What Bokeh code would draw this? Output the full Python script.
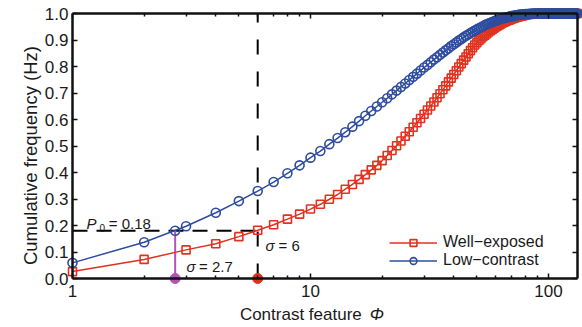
import math
from bokeh.plotting import figure
from bokeh.models import (LogAxis, LinearAxis, FixedTicker, Range1d, Label, Legend,
                          LegendItem, PrintfTickFormatter, BasicTickFormatter, ColumnDataSource)
from bokeh.embed import file_html
from bokeh.resources import INLINE

# ---------------- data ----------------
phi = list(range(1, 133))
well_exposed = [
    0.026, 0.072, 0.108, 0.131, 0.158, 0.182, 0.203, 0.224, 0.243, 0.262,
    0.280, 0.299, 0.317, 0.337, 0.355, 0.374, 0.392, 0.410, 0.427, 0.445,
    0.464, 0.483, 0.501, 0.519, 0.537, 0.554, 0.571, 0.588, 0.604, 0.620,
    0.636, 0.651, 0.666, 0.682, 0.697, 0.712, 0.727, 0.742, 0.756, 0.770,
    0.784, 0.798, 0.811, 0.824, 0.836, 0.848, 0.860, 0.871, 0.881, 0.890,
    0.898, 0.905, 0.912, 0.918, 0.924, 0.930, 0.935, 0.940, 0.945, 0.949,
    0.953, 0.957, 0.961, 0.964, 0.967, 0.970, 0.973, 0.975, 0.977, 0.979,
    0.981, 0.983, 0.985, 0.987, 0.988, 0.990, 0.991, 0.992, 0.993, 0.994,
    0.995, 0.996, 0.996, 0.997, 0.997, 0.998, 0.998, 0.999, 0.999, 1.000,
    1.000, 1.000, 1.000, 1.000, 1.000, 1.000, 1.000, 1.000, 1.000, 1.000,
    1.000, 1.000, 1.000, 1.000, 1.000, 1.000, 1.000, 1.000, 1.000, 1.000,
    1.000, 1.000, 1.000, 1.000, 1.000, 1.000, 1.000, 1.000, 1.000, 1.000,
    1.000, 1.000, 1.000, 1.000, 1.000, 1.000, 1.000, 1.000, 1.000, 1.000,
    1.000, 1.000,
]
low_contrast = [
    0.059, 0.137, 0.197, 0.248, 0.292, 0.330, 0.364, 0.397, 0.427, 0.456,
    0.481, 0.507, 0.530, 0.552, 0.573, 0.594, 0.614, 0.632, 0.649, 0.665,
    0.680, 0.695, 0.709, 0.723, 0.736, 0.749, 0.761, 0.773, 0.785, 0.796,
    0.806, 0.816, 0.826, 0.835, 0.844, 0.853, 0.861, 0.869, 0.877, 0.884,
    0.891, 0.898, 0.904, 0.910, 0.916, 0.921, 0.926, 0.931, 0.936, 0.940,
    0.944, 0.948, 0.952, 0.956, 0.959, 0.962, 0.965, 0.968, 0.971, 0.973,
    0.975, 0.977, 0.979, 0.981, 0.983, 0.985, 0.986, 0.988, 0.989, 0.990,
    0.991, 0.992, 0.993, 0.994, 0.995, 0.996, 0.996, 0.997, 0.997, 0.998,
    0.998, 0.998, 0.999, 0.999, 0.999, 1.000, 1.000, 1.000, 1.000, 1.000,
    1.000, 1.000, 1.000, 1.000, 1.000, 1.000, 1.000, 1.000, 1.000, 1.000,
    1.000, 1.000, 1.000, 1.000, 1.000, 1.000, 1.000, 1.000, 1.000, 1.000,
    1.000, 1.000, 1.000, 1.000, 1.000, 1.000, 1.000, 1.000, 1.000, 1.000,
    1.000, 1.000, 1.000, 1.000, 1.000, 1.000, 1.000, 1.000, 1.000, 1.000,
    1.000, 1.000,
]
series_names = ["Well\u2212exposed", "Low\u2212contrast"]
P0 = 0.18
sigma_low = 2.7
sigma_well = 6
x_bounds = (1, 132.4)
x_major_ticks = [1, 10, 100]
x_minor_ticks = [2, 3, 4, 5, 6, 7, 8, 9, 20, 30, 40, 50, 60, 70, 80, 90]
y_ticks = [0.0, 0.1, 0.2, 0.3, 0.4, 0.5, 0.6, 0.7, 0.8, 0.9, 1.0]
x_label = "Contrast feature"
x_symbol = "\u03A6"
y_label = "Cumulative frequency (Hz)"

RED = "#E0321F"
BLUE = "#2E4C9F"
MAGENTA = "#B553B5"
FONT = "Liberation Sans"

# ---------------- layout (pixels) ----------------
W, H = 582, 327
BOX_L, BOX_T, BOX_B = 72, 13, 278      # axes box edges in pixels
DECADE = 238.0                          # pixels per decade on x
Y0, Y1 = y_ticks[0], y_ticks[-1]
PX = (BOX_B - BOX_T) / (Y1 - Y0)        # pixels per unit on y

x_start = 10 ** (-BOX_L / DECADE)
x_end = 10 ** ((W - BOX_L) / DECADE)
y_start = Y0 - (H - BOX_B) / PX
y_end = Y1 + BOX_T / PX

p = figure(width=W, height=H, x_axis_type="log", output_backend="svg",
           toolbar_location=None, x_range=Range1d(x_start, x_end),
           y_range=Range1d(y_start, y_end),
           min_border_left=0, min_border_right=0, min_border_top=0, min_border_bottom=0)
p.outline_line_color = None
p.xgrid.visible = False
p.ygrid.visible = False
p.background_fill_color = "white"


def style_axis(ax):
    ax.axis_line_width = 2.5
    ax.axis_line_color = "#111111"
    ax.major_tick_in = 5
    ax.major_tick_out = 0
    ax.minor_tick_in = 3
    ax.minor_tick_out = 0
    ax.major_tick_line_width = 1.5
    ax.minor_tick_line_width = 1.5
    ax.major_tick_line_color = "#111111"
    ax.minor_tick_line_color = "#111111"
    ax.major_label_text_font = FONT
    ax.major_label_text_color = "#1a1a1a"
    ax.major_label_text_font_size = "17px"


def hide_labels(ax):
    ax.major_label_text_font_size = "1px"
    ax.major_label_text_color = None
    ax.major_label_standoff = 0


xa = p.xaxis[0]
xa.ticker = FixedTicker(ticks=x_major_ticks, minor_ticks=x_minor_ticks)
xa.formatter = BasicTickFormatter()
style_axis(xa)
xa.fixed_location = Y0
xa.bounds = x_bounds
xa.major_label_standoff = 6

ya = p.yaxis[0]
ya.ticker = FixedTicker(ticks=y_ticks, minor_ticks=[])
ya.formatter = PrintfTickFormatter(format="%.1f")
style_axis(ya)
ya.fixed_location = x_bounds[0]
ya.bounds = (Y0, Y1)
ya.major_label_standoff = 4

top = LogAxis(ticker=FixedTicker(ticks=x_major_ticks, minor_ticks=x_minor_ticks))
style_axis(top)
hide_labels(top)
top.fixed_location = Y1
top.bounds = x_bounds
p.add_layout(top, "above")

right = LinearAxis(ticker=FixedTicker(ticks=y_ticks, minor_ticks=[]))
style_axis(right)
hide_labels(right)
right.fixed_location = x_bounds[1]
right.bounds = (Y0, Y1)
p.add_layout(right, "right")

# dashed guide lines
p.line([x_bounds[0], sigma_well], [P0, P0], line_color="black", line_width=2,
       line_dash="15 9")
p.line([sigma_well, sigma_well], [Y0, Y1], line_color="black",
       line_width=2, line_dash="15 17")
p.line([sigma_low, sigma_low], [Y0, P0], line_color=MAGENTA, line_width=2)

src = ColumnDataSource(dict(phi=phi, well=well_exposed, low=low_contrast))
r_line = p.line("phi", "well", source=src, line_color=RED, line_width=1.5)
r_mark = p.scatter("phi", "well", source=src, marker="square", size=8,
                   line_color=RED, line_width=1.6, fill_color=None)
b_line = p.line("phi", "low", source=src, line_color=BLUE, line_width=1.5)
b_mark = p.scatter("phi", "low", source=src, marker="circle", size=9,
                   line_color=BLUE, line_width=1.6, fill_color=None)

p.scatter([sigma_low], [P0], marker="circle", size=9, line_color=BLUE,
          line_width=1.6, fill_color=None)
p.scatter([sigma_low], [Y0], marker="circle", size=10, line_color=MAGENTA,
          fill_color=MAGENTA)
p.scatter([sigma_well], [Y0], marker="circle", size=10, line_color=RED,
          fill_color=RED)

legend = Legend(items=[LegendItem(label=series_names[0], renderers=[r_line, r_mark]),
                       LegendItem(label=series_names[1], renderers=[b_line, b_mark])],
                location=(387, 56), orientation="vertical")
legend.label_text_font = FONT
legend.label_text_font_size = "16px"
legend.label_text_color = "#1a1a1a"
legend.glyph_width = 48
legend.glyph_height = 17
legend.label_height = 17
legend.spacing = 0
legend.padding = 2
legend.margin = 0
legend.label_standoff = 6
legend.border_line_alpha = 0
legend.background_fill_alpha = 0
p.add_layout(legend)


def add_label(x, y, text, size="15px", style="normal", angle=0.0, align="left",
              baseline="alphabetic"):
    p.add_layout(Label(x=x, y=y, text=text, text_font=FONT, text_font_size=size,
                       text_font_style=style, text_color="#1a1a1a", angle=angle,
                       text_align=align, text_baseline=baseline))


# P0 = 0.18
add_label(1.145, 0.2075, "P", style="italic")
add_label(1.30, 0.192, "0", size="10px")
add_label(1.42, 0.2075, "= 0.18")
# sigma = 2.7
add_label(3.01, 0.045, "\u03C3", style="italic")
add_label(3.40, 0.045, "= 2.7")
# sigma = 6
add_label(6.47, 0.124, "\u03C3", style="italic")
add_label(7.34, 0.124, "= 6")
# axis titles (x title anchored by its vertical middle)
add_label(5.05, -0.1345, x_label, size="17px", baseline="middle")
add_label(17.75, -0.1345, x_symbol, size="17px", style="italic", baseline="middle")
add_label(0.666, 0.464, y_label, size="18.5px", angle=math.pi / 2, align="center")

open("out.html", "w").write(file_html(p, INLINE))
